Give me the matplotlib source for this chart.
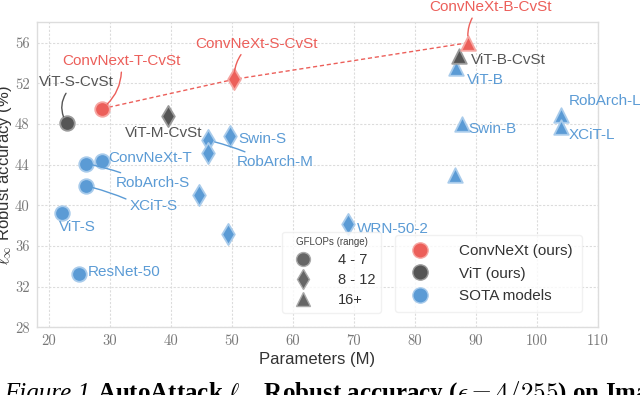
import matplotlib
matplotlib.use("Agg")
import matplotlib.pyplot as plt
from matplotlib.lines import Line2D

plt.rcParams['font.family'] = ['Liberation Sans', 'DejaVu Sans']
plt.rcParams['mathtext.fontset'] = 'cm'

# colours (fill, light edge)
RED, RED_E = '#ec5f5a', '#f6a6a2'
GRAY, GRAY_E = '#555555', '#9a9a9a'
BLUE, BLUE_E = '#5b9bd5', '#a8cbeb'

# ---- data ----
ours_cnx_names = ['ConvNext-T-CvSt', 'ConvNeXt-S-CvSt', 'ConvNeXt-B-CvSt']
ours_cnx_params = [28.7, 50.4, 88.8]
ours_cnx_acc = [49.5, 52.4, 56.0]
ours_cnx_flops = ['4 - 7', '8 - 12', '16+']

ours_vit_names = ['ViT-S-CvSt', 'ViT-M-CvSt', 'ViT-B-CvSt']
ours_vit_params = [22.9, 39.6, 87.2]
ours_vit_acc = [48.1, 48.8, 54.7]
ours_vit_flops = ['4 - 7', '8 - 12', '16+']

sota_names = ['ConvNeXt-T', 'RobArch-S', 'XCiT-S', 'ViT-S', 'ResNet-50', '', '',
              'Swin-S', 'RobArch-M', '', 'WRN-50-2', 'ViT-B', 'Swin-B', '',
              'RobArch-L', 'XCiT-L']
sota_params = [28.7, 26.1, 26.1, 22.1, 25.0, 44.6, 49.4,
               49.75, 46.1, 46.1, 69.0, 86.7, 87.8, 86.6,
               104.05, 104.05]
sota_acc = [44.4, 44.1, 41.9, 39.2, 33.2, 41.0, 37.2,
            46.8, 46.4, 45.1, 38.2, 53.5, 48.0, 43.0,
            48.85, 47.7]
sota_flops = ['4 - 7', '4 - 7', '4 - 7', '4 - 7', '4 - 7', '8 - 12', '8 - 12',
              '8 - 12', '8 - 12', '8 - 12', '8 - 12', '16+', '16+', '16+',
              '16+', '16+']

flop_groups = ['4 - 7', '8 - 12', '16+']
flop_markers = {'4 - 7': 'o', '8 - 12': 'd', '16+': '^'}
flop_sizes = {'4 - 7': 110, '8 - 12': 115, '16+': 110}

xticks = [20, 30, 40, 50, 60, 70, 80, 90, 100, 110]
yticks = [28, 32, 36, 40, 44, 48, 52, 56]

# label placement: name -> (x, y, ha, leader relpos or None, rad)
label_pos = {
    'ConvNext-T-CvSt': (31.9, 54.2, 'center', (0.5, 0.0), -0.25),
    'ConvNeXt-S-CvSt': (54.0, 55.9, 'center', (0.4, 0.0), 0.2),
    'ConvNeXt-B-CvSt': (92.4, 59.5, 'center', (0.37, 0.0), 0.2),
    'ViT-S-CvSt': (24.5, 52.1, 'center', (0.4, 0.0), 0.35),
    'ViT-M-CvSt': (38.9, 47.15, 'center', None, 0),
    'ViT-B-CvSt': (89.2, 54.25, 'left', None, 0),
    'ViT-B': (88.6, 52.3, 'left', None, 0),
    'Swin-S': (51.0, 46.5, 'left', None, 0),
    'RobArch-M': (50.8, 44.25, 'left', (0.25, 0.9), 0.05),
    'ConvNeXt-T': (29.8, 44.7, 'left', None, 0),
    'RobArch-S': (31.0, 42.2, 'left', (0.23, 0.9), 0.05),
    'XCiT-S': (33.3, 39.9, 'left', (0.0, 0.9), 0.05),
    'ViT-S': (21.6, 37.9, 'left', None, 0),
    'ResNet-50': (26.4, 33.45, 'left', None, 0),
    'WRN-50-2': (70.5, 37.7, 'left', None, 0),
    'Swin-B': (88.8, 47.5, 'left', None, 0),
    'RobArch-L': (105.2, 50.3, 'left', None, 0),
    'XCiT-L': (105.2, 46.9, 'left', None, 0),
}

fig = plt.figure(figsize=(6.4, 3.95), dpi=100)
ax = fig.add_axes([0.0573, 0.1714, 0.8767, 0.772])

ax.set_xlim(18, 110)
ax.set_ylim(28, 58)
ax.set_xticks(xticks)
ax.set_yticks(yticks)
ax.grid(True, color='#dcdcdc', linestyle=(0, (2, 1.5)), linewidth=0.8)
ax.set_axisbelow(True)
for s in ax.spines.values():
    s.set_color('#dddddd')
    s.set_linewidth(1.0)
ax.tick_params(length=0, pad=5, labelcolor='#777777', labelsize=10.5)
for lab in ax.get_xticklabels() + ax.get_yticklabels():
    lab.set_fontfamily('cmr10')

# red dashed line linking our ConvNeXt models
ax.plot(ours_cnx_params, ours_cnx_acc, color=RED, linestyle=(0, (3, 2)), linewidth=1.0, zorder=2)


def draw_group(params, acc, flops, color, edge):
    for g in flop_groups:
        xs = [p for p, f in zip(params, flops) if f == g]
        ys = [a for a, f in zip(acc, flops) if f == g]
        if xs:
            ax.scatter(xs, ys, s=flop_sizes[g], marker=flop_markers[g], c=color,
                       edgecolors=edge, linewidths=1.3, zorder=3)


draw_group(sota_params, sota_acc, sota_flops, BLUE, BLUE_E)
draw_group(ours_vit_params, ours_vit_acc, ours_vit_flops, GRAY, GRAY_E)
draw_group(ours_cnx_params, ours_cnx_acc, ours_cnx_flops, RED, RED_E)


def label_group(names, params, acc, color):
    for n, px, py in zip(names, params, acc):
        if not n:
            continue
        tx, ty, ha, rel, rad = label_pos[n]
        if rel is None:
            ax.text(tx, ty, n, color=color, fontsize=11, ha=ha, va='center',
                    clip_on=False, zorder=4)
        else:
            ax.annotate(n, xy=(px, py), xytext=(tx, ty), color=color, fontsize=11,
                        ha=ha, va='center', annotation_clip=False, zorder=4,
                        arrowprops=dict(arrowstyle='-', color=color, lw=1.0,
                                        relpos=rel, shrinkA=1, shrinkB=5,
                                        connectionstyle=f'arc3,rad={rad}'))


label_group(sota_names, sota_params, sota_acc, BLUE)
label_group(ours_vit_names, ours_vit_params, ours_vit_acc, GRAY)
label_group(ours_cnx_names, ours_cnx_params, ours_cnx_acc, RED)

ax.set_xlabel('Parameters (M)', fontsize=12, color='#333333', labelpad=3)
ax.set_ylabel(r'$\ell_\infty$ Robust accuracy (%)', fontsize=12, color='#333333')
ax.yaxis.set_label_coords(-0.04, 0.5)

# legends
color_handles = [
    Line2D([], [], marker='o', linestyle='', markersize=11, markerfacecolor=c,
           markeredgecolor=e, markeredgewidth=1.0, label=l)
    for c, e, l in [(RED, RED_E, 'ConvNeXt (ours)'), (GRAY, GRAY_E, 'ViT (ours)'),
                    (BLUE, BLUE_E, 'SOTA models')]
]
leg1 = ax.legend(handles=color_handles, loc='lower right', bbox_to_anchor=(0.986, 0.024),
                 fontsize=11, frameon=True, handletextpad=1.6, labelspacing=0.55,
                 borderpad=0.6, labelcolor='#333333')
leg1.get_frame().set_edgecolor('#eeeeee')
ax.add_artist(leg1)

flop_handles = [
    Line2D([], [], marker=flop_markers[g], linestyle='', markersize=10,
           markerfacecolor='#666666', markeredgecolor='#aaaaaa', markeredgewidth=1.0, label=g)
    for g in flop_groups
]
leg2 = ax.legend(handles=flop_handles, loc='lower left', bbox_to_anchor=(0.425, 0.024),
                 fontsize=10.5, title='GFLOPs (range)', title_fontsize=7, frameon=True,
                 handletextpad=1.4, labelspacing=0.4, borderpad=0.4, labelcolor='#333333')
leg2.get_frame().set_edgecolor('#eeeeee')
leg2.get_title().set_color('#444444')

# caption (cut off by the page edge in the original)
fig.text(0.006, -0.012, 'Figure 1.', fontsize=18, family='Liberation Serif',
         style='italic', va='baseline')
fig.text(0.152, -0.012, r'AutoAttack $\ell_\infty$ Robust accuracy ($\epsilon = 4/255$) on ImageNet',
         fontsize=18, family='Liberation Serif', weight='bold', va='baseline')

fig.savefig('out.png', dpi=100)
